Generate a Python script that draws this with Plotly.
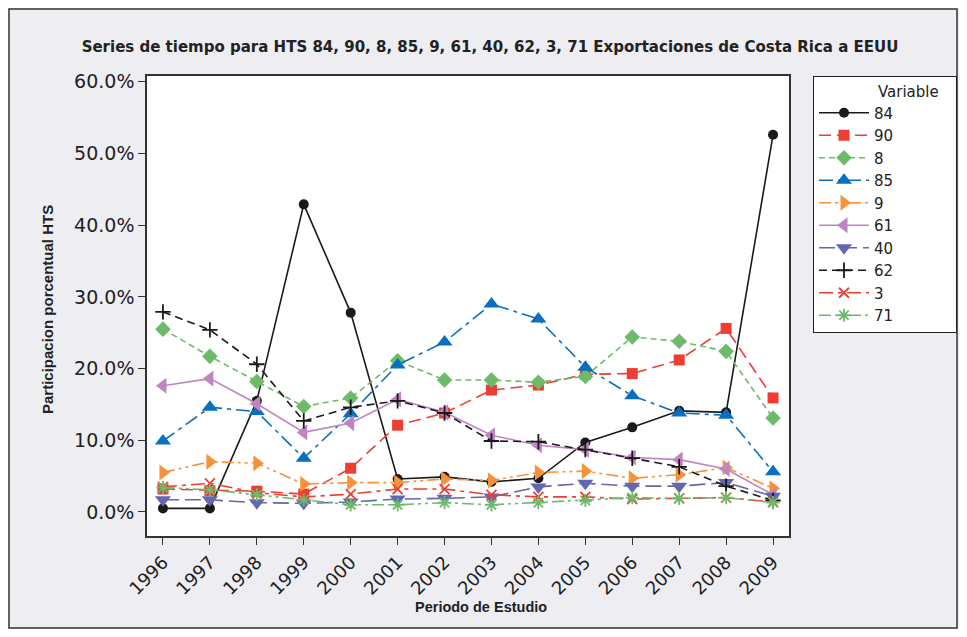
import plotly.graph_objects as go

years = [1996, 1997, 1998, 1999, 2000, 2001, 2002, 2003, 2004, 2005, 2006, 2007, 2008, 2009]

s84 = [0.5, 0.5, 15.5, 42.9, 27.8, 4.6, 4.9, 4.2, 4.7, 9.7, 11.8, 14.1, 13.9, 52.6]
s90 = [3.2, 3.0, 2.9, 2.5, 6.1, 12.1, 13.8, 17.0, 17.7, 19.2, 19.3, 21.2, 25.6, 15.9]
s8 = [25.5, 21.7, 18.2, 14.7, 15.9, 21.1, 18.4, 18.4, 18.1, 18.9, 24.4, 23.8, 22.4, 13.1]
s85 = [9.9, 14.6, 14.0, 7.5, 13.7, 20.5, 23.7, 29.0, 26.9, 20.2, 16.2, 13.8, 13.5, 5.6]
s9 = [5.5, 7.0, 6.8, 3.9, 4.1, 4.1, 4.6, 4.4, 5.5, 5.7, 4.7, 5.2, 6.2, 3.3]
s61 = [17.6, 18.6, 15.1, 11.1, 12.4, 15.7, 13.9, 10.7, 9.3, 8.7, 7.6, 7.3, 6.0, 2.4]
s40 = [1.7, 1.7, 1.3, 1.2, 1.4, 1.8, 1.9, 2.1, 3.5, 4.0, 3.6, 3.6, 4.1, 2.2]
s62 = [27.9, 25.4, 20.6, 12.7, 14.6, 15.5, 13.8, 9.9, 9.8, 8.7, 7.5, 6.3, 3.6, 1.6]
s3 = [3.5, 4.0, 2.7, 2.1, 2.5, 3.2, 3.2, 2.4, 2.1, 2.1, 1.8, 1.9, 2.0, 1.4]
s71 = [3.4, 3.1, 2.4, 1.7, 1.0, 1.0, 1.3, 1.0, 1.3, 1.6, 2.0, 1.9, 2.0, 1.3]

names = ["84", "90", "8", "85", "9", "61", "40", "62", "3", "71"]
series = [s84, s90, s8, s85, s9, s61, s40, s62, s3, s71]
colors = ["#1a1a1a", "#EE3D32", "#6DBA6A", "#0A6FBE", "#F7923A",
          "#C084C0", "#6466B0", "#1a1a1a", "#EE3D32", "#6DBA6A"]
symbols = ["circle", "square", "diamond", "triangle-up", "triangle-right",
           "triangle-left", "triangle-down", "cross-thin", "x-thin", "asterisk"]
sizes = [10, 11, 12, 14, 14, 14, 14, 11, 10, 11]
dashes = ["solid", "12px,6px", "6px,4px", "14px,5px,4px,5px",
          "12px,4px,3px,4px,3px,4px", "solid", "16px,6px", "8px,5px",
          "14px,5px,4px,5px", "12px,4px,3px,4px,3px,4px"]

NB = "\u00a0"
W, H = 951, 621          # page has an 8px body margin
OX, OY = 8, 8

fig = go.Figure()
for nm, ys, c, sym, sz, d in zip(names, series, colors, symbols, sizes, dashes):
    thin = sym in ("cross-thin", "x-thin", "asterisk")
    fig.add_trace(go.Scatter(
        x=years, y=ys, name=nm, mode="lines+markers",
        line=dict(color=c, width=1.6, dash=d),
        marker=dict(symbol=sym, size=sz, color=c,
                    line=dict(color=c, width=1.8 if thin else 0)),
    ))

TXT = "#222222"
PL, PR, PT, PB = 147, 789, 76, 536
pw, ph = PR - PL, PB - PT

fig.update_layout(
    width=W, height=H,
    paper_bgcolor="#EDEDF2", plot_bgcolor="white",
    margin=dict(l=PL - OX, r=OX + W - PR, t=PT - OY, b=OY + H - PB, autoexpand=False),
    font=dict(family="DejaVu Sans, sans-serif", color=TXT),
    title=dict(text="<b>Series de tiempo para HTS 84, 90, 8, 85, 9, 61, 40, 62, 3, 71 Exportaciones de Costa Rica a EEUU</b>",
               x=(490 - OX) / W, xref="container", xanchor="center",
               y=1 - (47 - OY) / H, yref="container", yanchor="middle",
               font=dict(family="DejaVu Sans, sans-serif", size=15, color=TXT)),
    showlegend=True,
    legend=dict(x=(813 - PL) / pw, xanchor="left", y=1.0, yanchor="top",
                bgcolor="white", bordercolor=TXT, borderwidth=1,
                font=dict(size=15, family="DejaVu Sans, sans-serif"),
                title=dict(text=NB * 13 + "Variable" + NB * 3, font=dict(size=15), side="top"),
                itemwidth=50, tracegroupgap=0),
)

fig.update_xaxes(
    range=[1995.66, 2009.34], tickmode="array", tickvals=years,
    ticktext=[str(y) for y in years], tickangle=-45,
    ticks="outside", ticklen=7, tickwidth=1.3, tickcolor="#333333",
    showline=True, linecolor="#333333", linewidth=1.5, mirror=True,
    showgrid=False, zeroline=False, automargin=False,
    tickfont=dict(size=18),
)
fig.update_yaxes(
    range=[-3.35, 60.8], tickmode="array", tickvals=[0, 10, 20, 30, 40, 50, 60],
    ticktext=["0.0%", "10.0%", "20.0%", "30.0%", "40.0%", "50.0%", "60.0%"],
    ticks="outside", ticklen=7, tickwidth=1.3, tickcolor="#333333",
    showline=True, linecolor="#333333", linewidth=1.5, mirror=True,
    showgrid=False, zeroline=False, automargin=False,
    tickfont=dict(size=19),
)

fig.add_annotation(text="<b>Participacion porcentual HTS</b>", textangle=-90,
                   xref="paper", yref="paper", x=(47 - PL) / pw, y=(PB - 310) / ph,
                   xanchor="center", yanchor="middle", showarrow=False,
                   font=dict(family="Liberation Sans, Arial, sans-serif", size=15, color=TXT))
fig.add_annotation(text="<b>Periodo de Estudio</b>",
                   xref="paper", yref="paper", x=(481 - PL) / pw, y=(PB - 607) / ph,
                   xanchor="center", yanchor="middle", showarrow=False,
                   font=dict(family="Liberation Sans, Arial, sans-serif", size=14.5, color=TXT))

fig.add_shape(type="rect", xref="paper", yref="paper",
              x0=(OX + 1 - PL) / pw, x1=(OX + W - 2 - PL) / pw,
              y0=(PB - (OY + H - 1)) / ph, y1=(PB - (OY + 1)) / ph,
              line=dict(color="#333333", width=1.5), layer="below")

fig.write_html("out.html")
